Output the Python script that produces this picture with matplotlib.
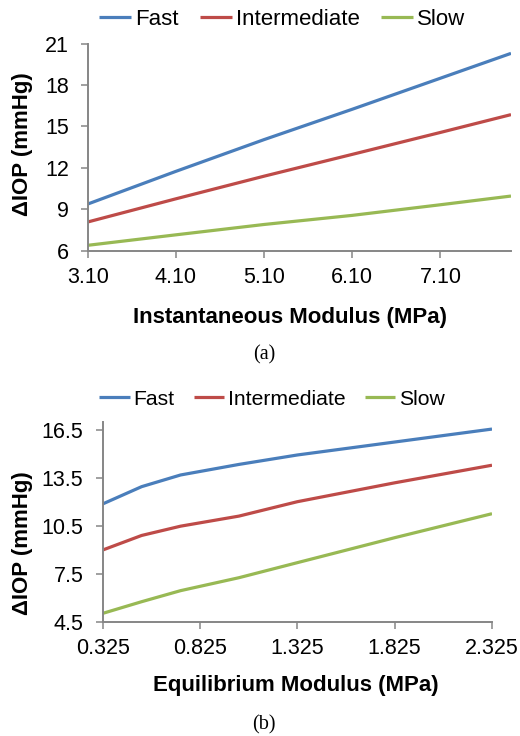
import numpy as np
import matplotlib
matplotlib.use("Agg")
import matplotlib.pyplot as plt

plt.rcParams['font.family'] = ['Liberation Sans', 'DejaVu Sans']

series = ["Fast", "Intermediate", "Slow"]
colors = ["#4A7EBB", "#BE4B48", "#98B954"]

# (a) instantaneous modulus
inst_mod = [3.1, 4.1, 5.1, 6.1, 7.1, 7.9]
inst_fast = [9.38, 11.75, 14.05, 16.25, 18.5, 20.3]
inst_inter = [8.08, 9.76, 11.4, 12.98, 14.57, 15.86]
inst_slow = [6.39, 7.15, 7.9, 8.56, 9.33, 9.96]
inst_xticks = [3.1, 4.1, 5.1, 6.1, 7.1]
inst_yticks = [6, 9, 12, 15, 18, 21]

# (b) equilibrium modulus
eq_mod = [0.325, 0.525, 0.725, 1.025, 1.325, 1.825, 2.325]
eq_fast = [11.86, 12.94, 13.67, 14.33, 14.92, 15.73, 16.54]
eq_inter = [8.98, 9.89, 10.47, 11.1, 12.0, 13.18, 14.28]
eq_slow = [5.02, 5.75, 6.44, 7.25, 8.19, 9.75, 11.25]
eq_xticks = [0.325, 0.825, 1.325, 1.825, 2.325]
eq_yticks = [4.5, 7.5, 10.5, 13.5, 16.5]

W, H = 520, 736
fig = plt.figure(figsize=(W / 100, H / 100), dpi=100)

def px_axes(l, t, r, b):
    return fig.add_axes([l / W, 1 - b / H, (r - l) / W, (b - t) / H])

def style(ax, tick_size, xpad, ypad):
    for s in ['top', 'right']:
        ax.spines[s].set_visible(False)
    for s in ['left', 'bottom']:
        ax.spines[s].set_color('#868686')
        ax.spines[s].set_linewidth(1.4)
    ax.tick_params(axis='both', direction='out', length=5, width=1.1,
                   color='#868686', labelsize=tick_size, labelcolor='black')
    ax.tick_params(axis='x', pad=xpad)
    ax.tick_params(axis='y', pad=ypad)

def legend(ax, x, y, fs, spacing):
    fig.legend(ax.get_lines(), series, loc='center left',
               bbox_to_anchor=(x / W, 1 - y / H), ncol=3, frameon=False,
               fontsize=fs, handlelength=1.45, handletextpad=0.18,
               columnspacing=spacing, borderpad=0, borderaxespad=0)

# ---- panel (a)
ax1 = px_axes(87.7, 43.7, 511, 250.7)
for vals, c in zip([inst_fast, inst_inter, inst_slow], colors):
    ax1.plot(inst_mod, vals, color=c, lw=2.3, solid_capstyle='butt')
ax1.set_xlim(3.1, 7.9)
ax1.set_ylim(6, 21)
ax1.set_xticks(inst_xticks)
ax1.set_xticklabels(["%.2f" % v for v in inst_xticks])
ax1.set_yticks(inst_yticks)
style(ax1, 15.5, 7, 8.5)
ax1.set_xlabel("Instantaneous Modulus (MPa)", fontsize=16, fontweight='bold')
ax1.xaxis.set_label_coords((290 - 87.7) / 423.3, (250.7 - 318) / 207)
ax1.xaxis.label.set_va('center')
ax1.set_ylabel("ΔIOP (mmHg)", fontsize=16, fontweight='bold')
ax1.yaxis.set_label_coords((23 - 87.7) / 423.3, (250.7 - 144.5) / 207)
ax1.yaxis.label.set_va('center')
legend(ax1, 99, 19.3, 16, 0.95)
fig.text(264 / W, 1 - 355 / H, "(a)", ha='center', va='center',
         family=['Liberation Serif'], fontsize=14.5)

# ---- panel (b)
ax2 = px_axes(102.7, 421.7, 492, 621.7)
for vals, c in zip([eq_fast, eq_inter, eq_slow], colors):
    ax2.plot(eq_mod, vals, color=c, lw=2.3, solid_capstyle='butt')
ax2.set_xlim(0.325, 2.325)
ax2.set_ylim(4.5, 17)
ax2.set_xticks(eq_xticks)
ax2.set_xticklabels(["%.3f" % v for v in eq_xticks])
ax2.set_yticks(eq_yticks)
style(ax2, 15.5, 7, 9)
ax2.set_xlabel("Equilibrium Modulus (MPa)", fontsize=16, fontweight='bold')
ax2.xaxis.set_label_coords((296 - 102.7) / 389.3, (621.7 - 685) / 200)
ax2.xaxis.label.set_va('center')
ax2.set_ylabel("ΔIOP (mmHg)", fontsize=16, fontweight='bold')
ax2.yaxis.set_label_coords((23 - 102.7) / 389.3, (621.7 - 543) / 200)
ax2.yaxis.label.set_va('center')
legend(ax2, 99, 399.3, 15.2, 0.9)
fig.text(264 / W, 1 - 725 / H, "(b)", ha='center', va='center',
         family=['Liberation Serif'], fontsize=14.5)

fig.savefig("out.png", dpi=100)
